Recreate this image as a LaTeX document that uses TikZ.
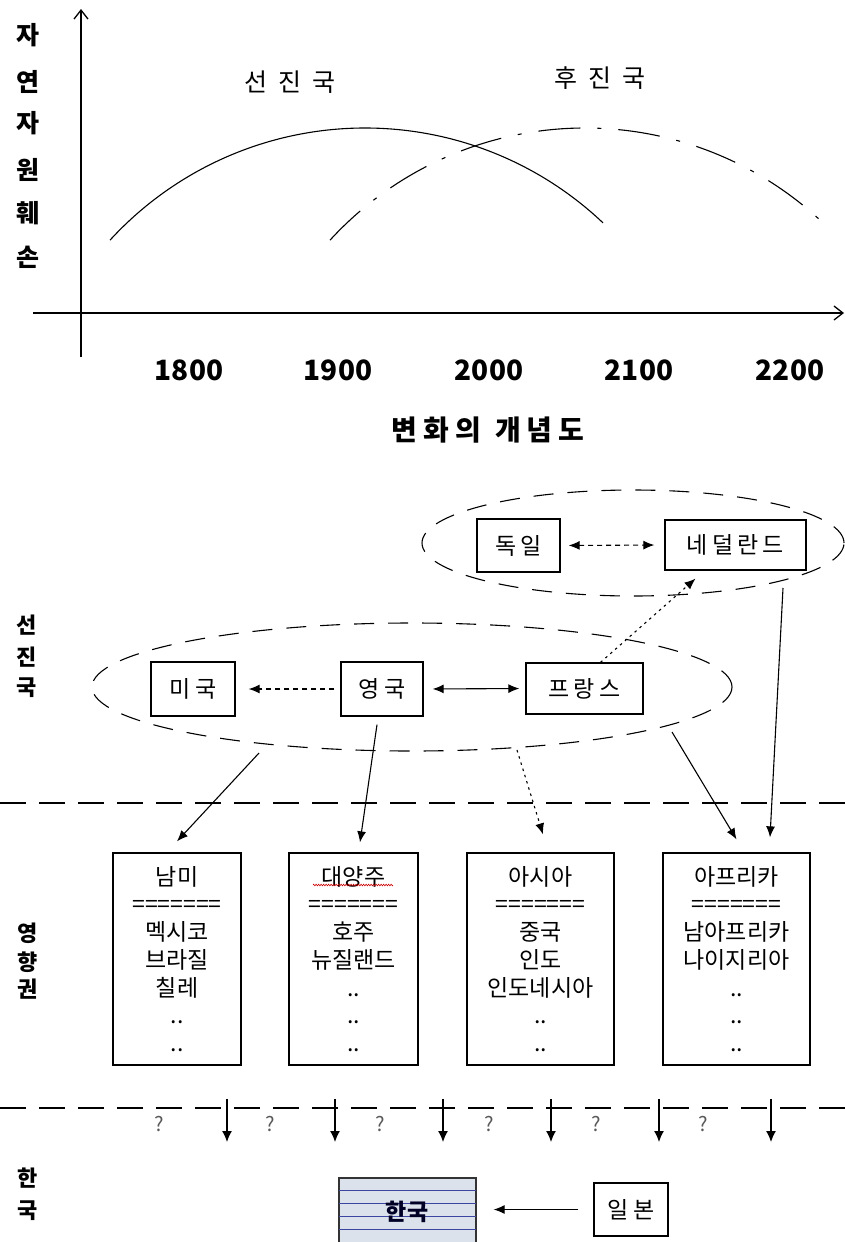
\documentclass[tikz,border=0pt]{standalone}
\usepackage{fontspec}
\setmainfont{Noto Sans CJK KR}
\usetikzlibrary{arrows.meta,decorations.pathmorphing}
\definecolor{korfill}{RGB}{220,226,235}
\definecolor{korline}{RGB}{60,70,160}
\begin{document}
\begin{tikzpicture}[x=1pt,y=-1pt,
  arr/.style={line width=1.1pt, -{Latex[length=11pt,width=9pt]}},
  arrboth/.style={line width=1.1pt, {Latex[length=11pt,width=9pt]}-{Latex[length=11pt,width=9pt]}},
  cbox/.style={draw, line width=1.3pt, inner sep=0pt, font=\fontsize{23}{27}\selectfont\addfontfeature{LetterSpace=18}},
  regbox/.style={draw, line width=1.3pt, minimum height=212pt, inner sep=0pt, align=center, font=\fontsize{23}{27.7}\selectfont},
  sidelab/.style={font=\bfseries\fontsize{22}{26}\selectfont},
  vlab/.style={font=\bfseries\fontsize{25}{28}\selectfont},
  sepline/.style={line width=1.1pt, dash pattern=on 26pt off 13pt},
  ovaldash/.style={line width=1.1pt, dash pattern=on 20pt off 14pt},
  shortdash/.style={dash pattern=on 5pt off 4pt},
  dotline/.style={dash pattern=on 2.5pt off 4pt},
  year/.style={font=\bfseries\fontsize{28}{32}\selectfont},
  qmark/.style={font=\fontsize{20}{24}\selectfont, text=black!65},
  toplab/.style={font=\fontsize{25}{28}\selectfont\addfontfeature{LetterSpace=44}},
]
\useasboundingbox (0,0) rectangle (845,1242);

% ---------- graph ----------
\coordinate (yb) at (81,357); \coordinate (yt) at (81,9);
\coordinate (xl) at (33,313); \coordinate (xr) at (844,313);
\draw[line width=1.3pt, -{Straight Barb[length=9pt,width=14pt]}] (yb) -- (yt);
\draw[line width=1.3pt, -{Straight Barb[length=9pt,width=14pt]}] (xl) -- (xr);

\draw[line width=1.1pt] plot[domain=110:603, samples=120] (\x, {474 - 10*sqrt(1197.16 - ((\x-365)/10)^2)});
\draw[line width=1.1pt, dash pattern=on 42pt off 17pt on 4pt off 17pt] plot[domain=330:822, samples=120] (\x, {474 - 10*sqrt(1197.16 - ((\x-585)/10)^2)});

\foreach \ch/\yy [count=\i] in {자/35, 연/82, 자/123, 원/170, 훼/213, 손/257}
  \node[vlab] (v\i) at (28,\yy) {\ch};

\node[toplab] (adv) at (290,82) {선진국};
\node[toplab] (dev) at (600,78) {후진국};

\node[year] (y1) at (189,370) {1800};
\node[year] (y2) at (338,370) {1900};
\node[year] (y3) at (489,370) {2000};
\node[year] (y4) at (639,370) {2100};
\node[year] (y5) at (790,370) {2200};

\node[font=\bfseries\fontsize{28}{32}\selectfont\addfontfeature{LetterSpace=21}] (title) at (488,430) {변화의\hspace{14pt}개념도};

% ---------- advanced countries ----------
\draw[ovaldash] (633,543) ellipse [x radius=211pt, y radius=53pt];
\draw[ovaldash] (412,687) ellipse [x radius=320pt, y radius=64pt];

\node[cbox, minimum width=84pt, minimum height=54pt] (usa) at (193,689) {미국};
\node[cbox, minimum width=82pt, minimum height=54pt] (eng) at (382,689) {영국};
\node[cbox, minimum width=117pt, minimum height=51pt] (fra) at (584.5,688.5) {프랑스};
\node[cbox, minimum width=83pt, minimum height=53pt] (ger) at (518.5,545.5) {독일};
\node[cbox, minimum width=141pt, minimum height=50pt] (ned) at (735.5,545) {네덜란드};

\draw[arr, shortdash, shorten <=6pt, shorten >=13pt] (eng.west) -- (usa.east);
\draw[arrboth, shorten <=9pt, shorten >=6pt] (eng.east) -- (fra.west);
\draw[arrboth, shortdash, shorten <=8pt, shorten >=10pt] (ger.east) -- (ned.west);
\draw[arr, dotline] ([xshift=16pt]fra.north) -- ([xshift=-40pt,yshift=-8pt]ned.south);

\node[sidelab] (l1) at (27,625) {선};
\node[sidelab] (l2) at (27,657) {진};
\node[sidelab] (l3) at (27,688) {국};

\coordinate (s1l) at (0,803); \coordinate (s1r) at (845,803);
\draw[sepline] (s1l) -- (s1r);

% ---------- regions ----------
\node[regbox, minimum width=128pt] (nam) at (177,959) {남미\\=======\\멕시코\\브라질\\칠레\\..\\..};
\node[regbox, minimum width=129pt] (dae) at (353.5,959) {대양주\\=======\\호주\\뉴질랜드\\..\\..\\..};
\node[regbox, minimum width=147pt] (asi) at (540.5,959) {아시아\\=======\\중국\\인도\\인도네시아\\..\\..};
\node[regbox, minimum width=147pt] (afr) at (736.5,959) {아프리카\\=======\\남아프리카\\나이지리아\\..\\..\\..};
\draw[red!80!black, line width=0.6pt, decorate, decoration={zigzag, segment length=2.5pt, amplitude=0.8pt}] (313,885) -- (393,885);

\coordinate (a1s) at (259,753);
\coordinate (a3s) at (517,750);
\coordinate (a4s) at (672,732);
\coordinate (a5s) at (783,588);
\draw[arr] (a1s) -- ([yshift=11pt]nam.north);
\draw[arr] ([xshift=-5pt,yshift=-8pt]eng.south) -- ([xshift=6.5pt,yshift=10pt]dae.north);
\draw[arr, dotline] (a3s) -- ([xshift=2.5pt,yshift=18pt]asi.north);
\draw[arr] (a4s) -- ([yshift=13pt]afr.north);
\draw[arr] (a5s) -- ([xshift=33.5pt,yshift=15pt]afr.north);

\node[sidelab] (m1) at (28,933) {영};
\node[sidelab] (m2) at (28,962) {향};
\node[sidelab] (m3) at (28,989) {권};

\coordinate (s2l) at (0,1108); \coordinate (s2r) at (845,1108);
\draw[sepline] (s2l) -- (s2r);

\foreach \qx [count=\i] in {159,270,380,489,596,703}
  \node[qmark] (q\i) at (\qx,1124) {?};
\foreach \dx [count=\i] in {227,335,443,551,659,771} {
  \coordinate (dt\i) at (\dx,1099);
  \coordinate (db\i) at (\dx,1142);
  \draw[line width=1.3pt, -{Latex[length=11pt,width=10pt]}] (dt\i) -- (db\i);
}

% ---------- Korea ----------
\node[sidelab] (k1) at (28,1178) {한};
\node[sidelab] (k2) at (28,1211) {국};

\node[draw=black!80, line width=1.3pt, fill=korfill, minimum width=137pt, minimum height=68pt, inner sep=0pt] (kor) at (407.5,1212) {};
\foreach \yy in {1190,1203,1216,1229}
  \draw[line width=1pt, korline] (339,\yy) -- (476,\yy);
\node[font=\bfseries\fontsize{23}{26}\selectfont, text=black!85!blue] (kortxt) at (407,1212) {한국};
\node[cbox, minimum width=74pt, minimum height=53pt] (jpn) at (631,1209.5) {일본};
\draw[arr, shorten <=15pt, shorten >=17pt] (jpn.west) -- (kor.east |- jpn.west);
\end{tikzpicture}
\end{document}
